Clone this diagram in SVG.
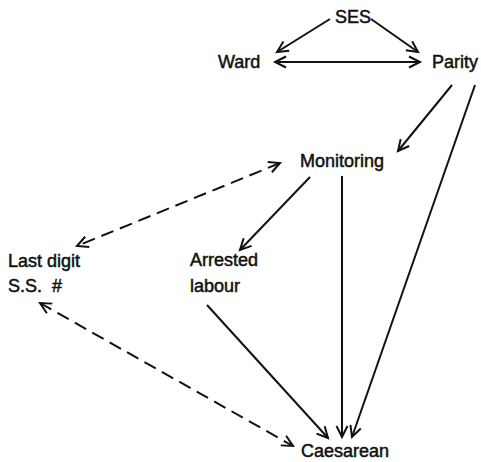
<svg xmlns="http://www.w3.org/2000/svg" width="481" height="462" viewBox="0 0 481 462">
<style>
.lbl{font-family:"Liberation Sans",Arial,sans-serif;font-size:18px;fill:#111;stroke:#111;stroke-width:0.5;}
.e{stroke:#111;stroke-width:2;fill:none;}
.d{stroke-dasharray:13 7;}
</style>
<defs>
<marker id="ah" viewBox="0 0 13 13" refX="12" refY="6.5" markerWidth="13" markerHeight="13" markerUnits="userSpaceOnUse" orient="auto-start-reverse" overflow="visible">
<path d="M1,1 L12,6.5 L1,12" fill="none" stroke="#111" stroke-width="2"/>
</marker>
</defs>
<rect width="481" height="462" fill="#fff"/>
<g id="connectors">
<line class="e" x1="330" y1="19" x2="277" y2="52" marker-end="url(#ah)"/>
<line class="e" x1="371" y1="19" x2="418" y2="52" marker-end="url(#ah)"/>
<line class="e" x1="275" y1="62" x2="420" y2="62" marker-start="url(#ah)" marker-end="url(#ah)"/>
<line class="e" x1="452" y1="85" x2="398" y2="151" marker-end="url(#ah)"/>
<line class="e" x1="475" y1="85" x2="352" y2="437" marker-end="url(#ah)"/>
<line class="e" x1="342" y1="176" x2="342" y2="437" marker-end="url(#ah)"/>
<line class="e" x1="310" y1="177" x2="240" y2="250" marker-end="url(#ah)"/>
<line class="e" x1="207" y1="305" x2="328" y2="438" marker-end="url(#ah)"/>
<line class="e d" x1="280" y1="163" x2="77" y2="246" marker-start="url(#ah)" marker-end="url(#ah)"/>
<line class="e d" x1="40" y1="303" x2="293" y2="446" marker-start="url(#ah)" marker-end="url(#ah)"/>
</g>
<g id="ses"><text class="lbl" x="335" y="23">SES</text></g>
<g id="ward"><text class="lbl" x="218" y="68">Ward</text></g>
<g id="parity"><text class="lbl" x="432" y="68">Parity</text></g>
<g id="monitoring"><text class="lbl" x="300" y="167">Monitoring</text></g>
<g id="lastdigit"><text class="lbl" x="8" y="267">Last digit</text><text class="lbl" y="292"><tspan x="8">S.S.</tspan><tspan x="52">#</tspan></text></g>
<g id="arrested"><text class="lbl" x="190" y="266">Arrested</text><text class="lbl" x="190" y="292">labour</text></g>
<g id="caesarean"><text class="lbl" x="301" y="457">Caesarean</text></g>
</svg>
